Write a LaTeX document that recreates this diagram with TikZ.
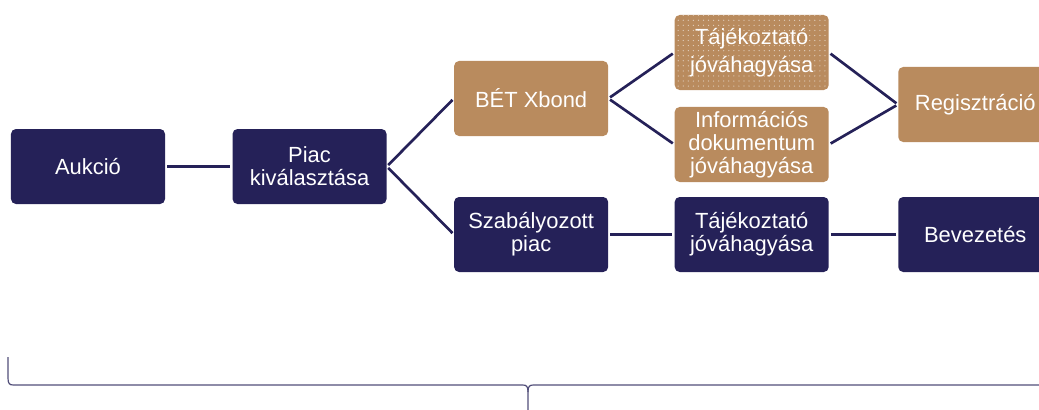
\documentclass[tikz,border=0pt]{standalone}
\usepackage{fontspec}
\setmainfont{Liberation Sans}
\usetikzlibrary{positioning, patterns.meta}
\definecolor{navy}{RGB}{37,33,88}
\definecolor{gold}{RGB}{185,139,94}

\begin{document}
\begin{tikzpicture}[auto,
box/.style={
  rectangle, rounded corners=3.5pt,
  minimum width=3.85cm, minimum height=1.875cm,
  inner sep=0pt, align=center, text=white,
  font=\fontsize{15.6}{16.4}\selectfont
},
dark/.style={box, fill=navy},
light/.style={box, fill=gold},
dotbox/.style={
  light, preaction={fill=gold},
  pattern={Dots[distance=3.6pt, radius=0.45pt]}, pattern color=white!60!gold,
  font=\fontsize{15.6}{20.3}\selectfont
},
link/.style={draw=navy, line width=1.9pt, shorten <=1.4pt, shorten >=1.4pt}
]

\useasboundingbox (0,0) rectangle (25.975,-10.25);

\node (aukcio) [dark] at (2.2,-4.1625) {Aukció};
\node (piac) [dark, right=1.675cm of aukcio] {Piac\\kiválasztása};
\node (betx) [light, right=1.675cm of piac, yshift=1.7cm] {BÉT Xbond};
\node (szab) [dark, right=1.675cm of piac, yshift=-1.7cm] {Szabályozott\\piac};
\node (tajek) [dotbox, right=1.65cm of betx, yshift=1.15cm] {Tájékoztató\\jóváhagyása};
\node (infdok) [light, right=1.65cm of betx, yshift=-1.15cm] {Információs\\dokumentum\\jóváhagyása};
\node (regisz) [light, right=1.725cm of infdok, yshift=1cm] {Regisztráció};
\node (tajek2) [dark, right=1.65cm of szab] {Tájékoztató\\jóváhagyása};
\node (bevez) [dark, right=1.725cm of tajek2] {Bevezetés};

\draw [link] (aukcio) -- (piac);
\draw [link] (piac.east) -- (betx.west);
\draw [link] (piac.east) -- (szab.west);
\draw [link] (betx.east) -- (tajek.west);
\draw [link] (betx.east) -- (infdok.west);
\draw [link] (tajek.east) -- (regisz.west);
\draw [link] (infdok.east) -- (regisz.west);
\draw [link] (szab) -- (tajek2);
\draw [link] (tajek2) -- (bevez);

\coordinate (bleft) at (0.2,-8.925);
\coordinate (btip) at (13.2,-10.25);
\coordinate (bright) at (26.2,-8.925);
\draw [navy!80, line width=0.85pt]
  (bleft) -- (0.2,-9.45) .. controls (0.2,-9.59) and (0.235,-9.625) .. (0.335,-9.625)
  -- (13.065,-9.625) .. controls (13.165,-9.625) and (13.2,-9.66) .. (13.2,-9.8)
  -- (btip);
\draw [navy!80, line width=0.85pt]
  (bright) -- (26.2,-9.45) .. controls (26.2,-9.59) and (26.165,-9.625) .. (26.065,-9.625)
  -- (13.335,-9.625) .. controls (13.235,-9.625) and (13.2,-9.66) .. (13.2,-9.8);
\end{tikzpicture}
\end{document}
